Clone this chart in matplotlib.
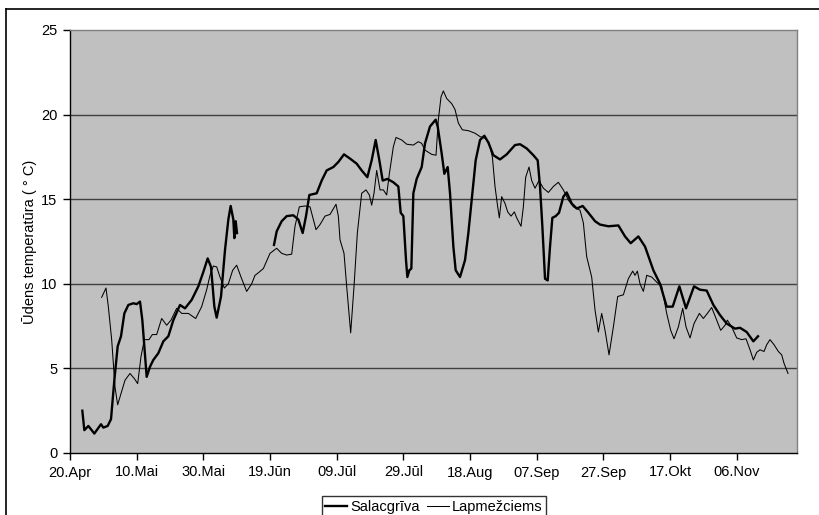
import numpy as np
import matplotlib.pyplot as plt
from matplotlib.lines import Line2D

plt.rcParams['font.family'] = ['Liberation Sans', 'DejaVu Sans']

# Days counted from 20 April
tick_days = [0, 20, 40, 60, 80, 100, 120, 140, 160, 180, 200]
tick_labels = ['20.Apr', '10.Mai', '30.Mai', '19.Jūn', '09.Jūl', '29.Jūl',
               '18.Aug', '07.Sep', '27.Sep', '17.Okt', '06.Nov']

# Salacgrīva (gap in June marked with nan)
salac_days = [3.7, 4.3, 5.5, 7.3, 9.3, 10, 11.3, 12.3, 13.3, 14.3, 15.3, 16.3, 17.5, 19, 20, 21,
              21.7, 23, 24, 25, 26.5, 28, 29.5, 31, 33, 34.5, 36.5, 38.5, 40, 41.3, 42.3, 43.3,
              44, 45.3, 46.5, 47.5, 48.2, 49, 49.3, 49.7, 50.1, 55,
              61.2, 62, 63.5, 65, 67, 68.5, 69.8, 70.8, 71.8, 74, 75.5, 77, 79, 80.5, 82.2, 84,
              86, 87.5, 89.2, 90.5, 91.7, 92.8, 93.8, 95.2, 97, 98.5, 99.2, 100, 100.8, 101.2,
              101.8, 102.4, 103, 104, 105.5, 106.5, 108, 109.7, 110.3, 111.5, 112.3, 113.3, 114,
              115, 115.7, 117, 118.5, 119.5, 120.7, 121.7, 123, 124.3, 125.5, 127, 129, 131,
              133.5, 135, 137, 139, 140.3, 141, 141.7, 142.5, 143.3, 144, 144.7, 145.7, 146.7,
              148, 149, 150.5, 152, 153.8, 155.5, 157.5, 159, 161.5, 164.5, 166.5, 168.2, 170.5,
              172.5, 175, 177, 179, 180.8, 182.8, 184.8, 187.2, 189, 191, 193, 195, 197, 199.5,
              201, 203, 205, 206.4]
salac_temp = [2.5, 1.35, 1.6, 1.15, 1.7, 1.5, 1.6, 2.0, 4.3, 6.3, 6.9, 8.25, 8.75, 8.85, 8.8, 8.95,
              7.85, 4.5, 5.1, 5.5, 5.9, 6.6, 6.9, 7.85, 8.75, 8.55, 9.05, 9.85, 10.7, 11.5, 11.0, 8.65,
              8.0, 9.25, 12.0, 13.8, 14.6, 13.8, 12.7, 13.7, 13.0, np.nan,
              12.3, 13.1, 13.7, 14.0, 14.05, 13.8, 13.0, 14.0, 15.25, 15.35, 16.1, 16.7, 16.9, 17.2,
              17.65, 17.4, 17.1, 16.7, 16.3, 17.3, 18.5, 17.3, 16.1, 16.2, 16.0, 15.75, 14.2, 14.0,
              11.4, 10.4, 10.8, 10.9, 15.35, 16.2, 16.9, 18.3, 19.3, 19.7, 19.3, 17.7, 16.5, 16.9,
              15.35, 12.2, 10.8, 10.4, 11.4, 13.0, 15.35, 17.3, 18.5, 18.75, 18.35, 17.6, 17.35,
              17.65, 18.2, 18.25, 18.0, 17.6, 17.3, 15.75, 13.4, 10.3, 10.2, 12.2, 13.9, 14.0, 14.2,
              15.15, 15.4, 14.75, 14.45, 14.6, 14.2, 13.7, 13.5, 13.4, 13.45, 12.8, 12.4, 12.8,
              12.2, 10.8, 10.0, 8.65, 8.65, 9.85, 8.55, 9.85, 9.65, 9.6, 8.75, 8.15, 7.65, 7.35,
              7.4, 7.15, 6.6, 6.9]

# Lapmežciems
lapm_days = [9.5, 10.8, 11.5, 12.5, 13.5, 14.3, 15.3, 16.5, 18, 19.3, 20.3, 21.3, 22.3, 23.7, 24.7,
             26, 27.5, 29, 30.3, 32, 33.5, 35.5, 37.7, 39.5, 41, 42, 43, 44, 45, 46.3, 47.5, 48.8,
             50, 51.3, 53, 54.5, 55.5, 56.5, 58, 60, 62, 63.5, 65, 66.5, 67.5, 68.8, 70.5, 72, 73,
             73.8, 75, 76.5, 78, 79.8, 80.5, 81, 82.2, 83, 84.2, 85.2, 86.2, 87.5, 88.8, 89.8, 90.5,
             91.2, 92, 93, 94, 95, 95.8, 97, 97.8, 99.5, 101, 103, 104.5, 105.5, 106.5, 108.5,
             109.8, 110.5, 111.3, 112, 113, 114.5, 115.5, 116.5, 117.7, 119.5, 121.5, 123, 124.5,
             125.7, 126.7, 127.5, 128.3, 128.8, 129.5, 130.5, 131.3, 132.3, 133.3, 134, 135.3, 136,
             136.7, 137.7, 138.5, 139.5, 140.7, 142, 143.5, 145, 146.5, 148, 149.5, 151, 153, 154,
             155, 156.5, 157.5, 158.5, 159.5, 160.5, 161.7, 163, 164.3, 166, 167.5, 168.8, 169.5,
             170.2, 171, 172, 173, 174.5, 176, 177.5, 179, 180.2, 181.2, 182.5, 183.8, 184.8, 186,
             187.2, 188.8, 190, 191.2, 192.5, 194, 195.2, 196.5, 197.2, 198.5, 200, 201.5, 202.8,
             204, 205, 206, 207, 208.2, 209, 210, 211.2, 212.5, 213.5, 214.2, 215, 215.4]
lapm_temp = [9.2, 9.75, 8.65, 6.7, 3.9, 2.85, 3.5, 4.3, 4.7, 4.4, 4.1, 5.7, 6.7, 6.7, 7.0,
             7.0, 7.95, 7.55, 7.85, 8.55, 8.25, 8.25, 7.95, 8.65, 9.65, 10.5, 11.05, 11.0, 10.4, 9.75,
             10.0, 10.8, 11.1, 10.4, 9.55, 10.0, 10.5, 10.65, 10.9, 11.8, 12.1, 11.8, 11.7, 11.75,
             13.4, 14.55, 14.6, 14.55, 13.8, 13.2, 13.5, 14.0, 14.1, 14.7, 14.0, 12.6, 11.8, 9.85,
             7.1, 9.85, 13.0, 15.35, 15.55, 15.25, 14.65, 15.35, 16.7, 15.55, 15.55, 15.25, 16.5,
             18.1, 18.65, 18.5, 18.25, 18.2, 18.4, 18.3, 17.9, 17.65, 17.6, 19.7, 21.05, 21.4,
             20.95, 20.65, 20.3, 19.5, 19.1, 19.05, 18.9, 18.7, 18.6, 18.35, 17.5, 15.75, 14.55,
             13.9, 15.15, 14.75, 14.25, 14.0, 14.25, 13.9, 13.4, 14.55, 16.3, 16.9, 16.1, 15.65,
             16.1, 15.65, 15.4, 15.75, 16.0, 15.55, 14.95, 14.55, 14.35, 13.6, 11.6, 10.4, 8.45,
             7.15, 8.25, 7.25, 5.8, 7.45, 9.25, 9.35, 10.3, 10.75, 10.5, 10.75, 10.0, 9.55, 10.5,
             10.4, 10.1, 9.85, 8.25, 7.25, 6.75, 7.45, 8.55, 7.45, 6.8, 7.65, 8.25, 7.95, 8.25,
             8.6, 7.85, 7.25, 7.55, 7.85, 7.45, 6.8, 6.7, 6.75, 6.1, 5.5, 5.95, 6.1, 6.0, 6.4, 6.7,
             6.4, 6.0, 5.8, 5.3, 4.9, 4.7]

fig = plt.figure(figsize=(8.2, 5.15), dpi=100)
ax = fig.add_axes([70 / 820, 1 - 453 / 515, 726.7 / 820, 423 / 515])
ax.set_facecolor('#c0c0c0')

for y in [5, 10, 15, 20]:
    ax.axhline(y, color='#404040', lw=1.0, zorder=1)

ax.plot(salac_days, salac_temp, color='black', lw=1.7, label='Salacgrīva', zorder=3)
ax.plot(lapm_days, lapm_temp, color='black', lw=0.75, label='Lapmežciems', zorder=2)

ax.set_xlim(0, 218)
ax.set_ylim(0, 25)
ax.set_xticks(tick_days)
ax.set_xticklabels(tick_labels)
ax.set_yticks([0, 5, 10, 15, 20, 25])
ax.tick_params(direction='out', length=5, width=1, labelsize=10.5, colors='black')
ax.tick_params(axis='x', pad=4)
ax.tick_params(axis='y', pad=4)

for s in ['top', 'right']:
    ax.spines[s].set_color('#808080')
    ax.spines[s].set_linewidth(1)
for s in ['left', 'bottom']:
    ax.spines[s].set_color('black')
    ax.spines[s].set_linewidth(1)

ax.set_ylabel('Ūdens temperatūra ( ° C)', fontsize=10.5, labelpad=3)

leg = fig.legend(loc='upper center', bbox_to_anchor=(434 / 820, 1 - 496 / 515), ncol=2,
                 fontsize=10.5, frameon=True, fancybox=False, edgecolor='black',
                 handlelength=1.5, handletextpad=0.2, columnspacing=0.5, borderpad=0.25,
                 borderaxespad=0)
leg.get_frame().set_linewidth(1)

# outer chart border (clipped by the image edge at right/bottom)
fig.add_artist(Line2D([6 / 820, 1], [1 - 9 / 515] * 2, transform=fig.transFigure, color='black', lw=1.2))
fig.add_artist(Line2D([6 / 820] * 2, [0, 1 - 9 / 515], transform=fig.transFigure, color='black', lw=1.2))

fig.savefig('out.png', dpi=100)
